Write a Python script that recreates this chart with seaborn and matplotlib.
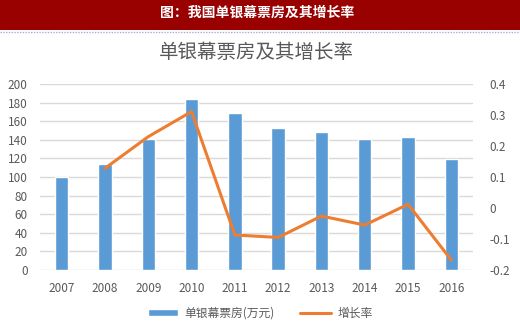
import matplotlib
matplotlib.use("Agg")
import matplotlib.pyplot as plt
import seaborn as sns
import pandas as pd
from matplotlib.patches import Rectangle
from matplotlib.lines import Line2D

years = ["2007", "2008", "2009", "2010", "2011", "2012", "2013", "2014", "2015", "2016"]
box_office = [100, 114, 140.5, 184, 168.5, 152.3, 148.7, 140.5, 142.7, 119]
growth = [None, 0.128, 0.230, 0.311, -0.087, -0.095, -0.026, -0.055, 0.012, -0.168]
left_ticks = [0, 20, 40, 60, 80, 100, 120, 140, 160, 180, 200]
right_ticks = [-0.2, -0.1, 0, 0.1, 0.2, 0.3, 0.4]
right_labels = ["-0.2", "-0.1", "0", "0.1", "0.2", "0.3", "0.4"]

sns.set_theme(style="white")
plt.rcParams['font.family'] = ['Noto Sans CJK SC', 'DejaVu Sans']

df = pd.DataFrame({"year": years, "box": box_office, "growth": growth})

fig = plt.figure(figsize=(5.2, 3.28), dpi=100)
# header band
fig.patches.append(Rectangle((0, 1 - 30 / 328), 1, 30 / 328, transform=fig.transFigure,
                             facecolor="#990000", edgecolor="none", zorder=0))
fig.add_artist(Line2D([0, 1], [1 - 31.5 / 328] * 2, transform=fig.transFigure,
                      color="#B9A3CF", lw=1, linestyle=(0, (1, 1))))
fig.text(0.495, 1 - 13 / 328, "图：我国单银幕票房及其增长率", color="white",
         fontsize=10, fontweight="bold", ha="center", va="center")
fig.text(0.493, 1 - 52 / 328, "单银幕票房及其增长率", color="#595959",
         fontsize=14, ha="center", va="center")

ax = fig.add_axes([40 / 520, 58 / 328, 433 / 520, 186 / 328])
sns.barplot(data=df, x="year", y="box", color="#5B9BD5", width=0.31,
            saturation=1, ax=ax, zorder=3)
ax.set_ylim(0, 200)
ax.set_xlim(-0.5, 9.5)
ax.set_yticks(left_ticks)
ax.set_yticklabels([str(t) for t in left_ticks])
ax.yaxis.grid(True, color="#D9D9D9", lw=1)
ax.set_axisbelow(True)
for s in ax.spines.values():
    s.set_visible(False)
ax.set_xlabel("")
ax.set_ylabel("")
ax.tick_params(axis="both", length=0, colors="#595959", labelsize=8.5)
ax.tick_params(axis="y", pad=9)
ax.tick_params(axis="x", pad=9)

ax2 = ax.twinx()
sns.lineplot(data=df.dropna(), x="year", y="growth", color="#ED7D31", lw=2.2,
             ax=ax2, sort=False)
ax2.set_ylim(-0.2, 0.4)
ax2.set_xlim(-0.5, 9.5)
ax2.set_yticks(right_ticks)
ax2.set_yticklabels(right_labels)
for s in ax2.spines.values():
    s.set_visible(False)
ax2.set_ylabel("")
ax2.set_xlabel("")
ax2.tick_params(axis="y", length=0, colors="#595959", labelsize=8.5, pad=12)
ax2.grid(False)

handles = [Rectangle((0, 0), 1, 1, facecolor="#5B9BD5"),
           Line2D([0], [0], color="#ED7D31", lw=2.2)]
fig.legend(handles, ["单银幕票房(万元)", "增长率"], loc="center",
           bbox_to_anchor=(0.5, 1 - 313 / 328), ncol=2, frameon=False,
           fontsize=8.5, labelcolor="#595959", handlelength=2.6, handleheight=0.6,
           columnspacing=2.2, handletextpad=0.5)

fig.savefig("out.png", dpi=100)
